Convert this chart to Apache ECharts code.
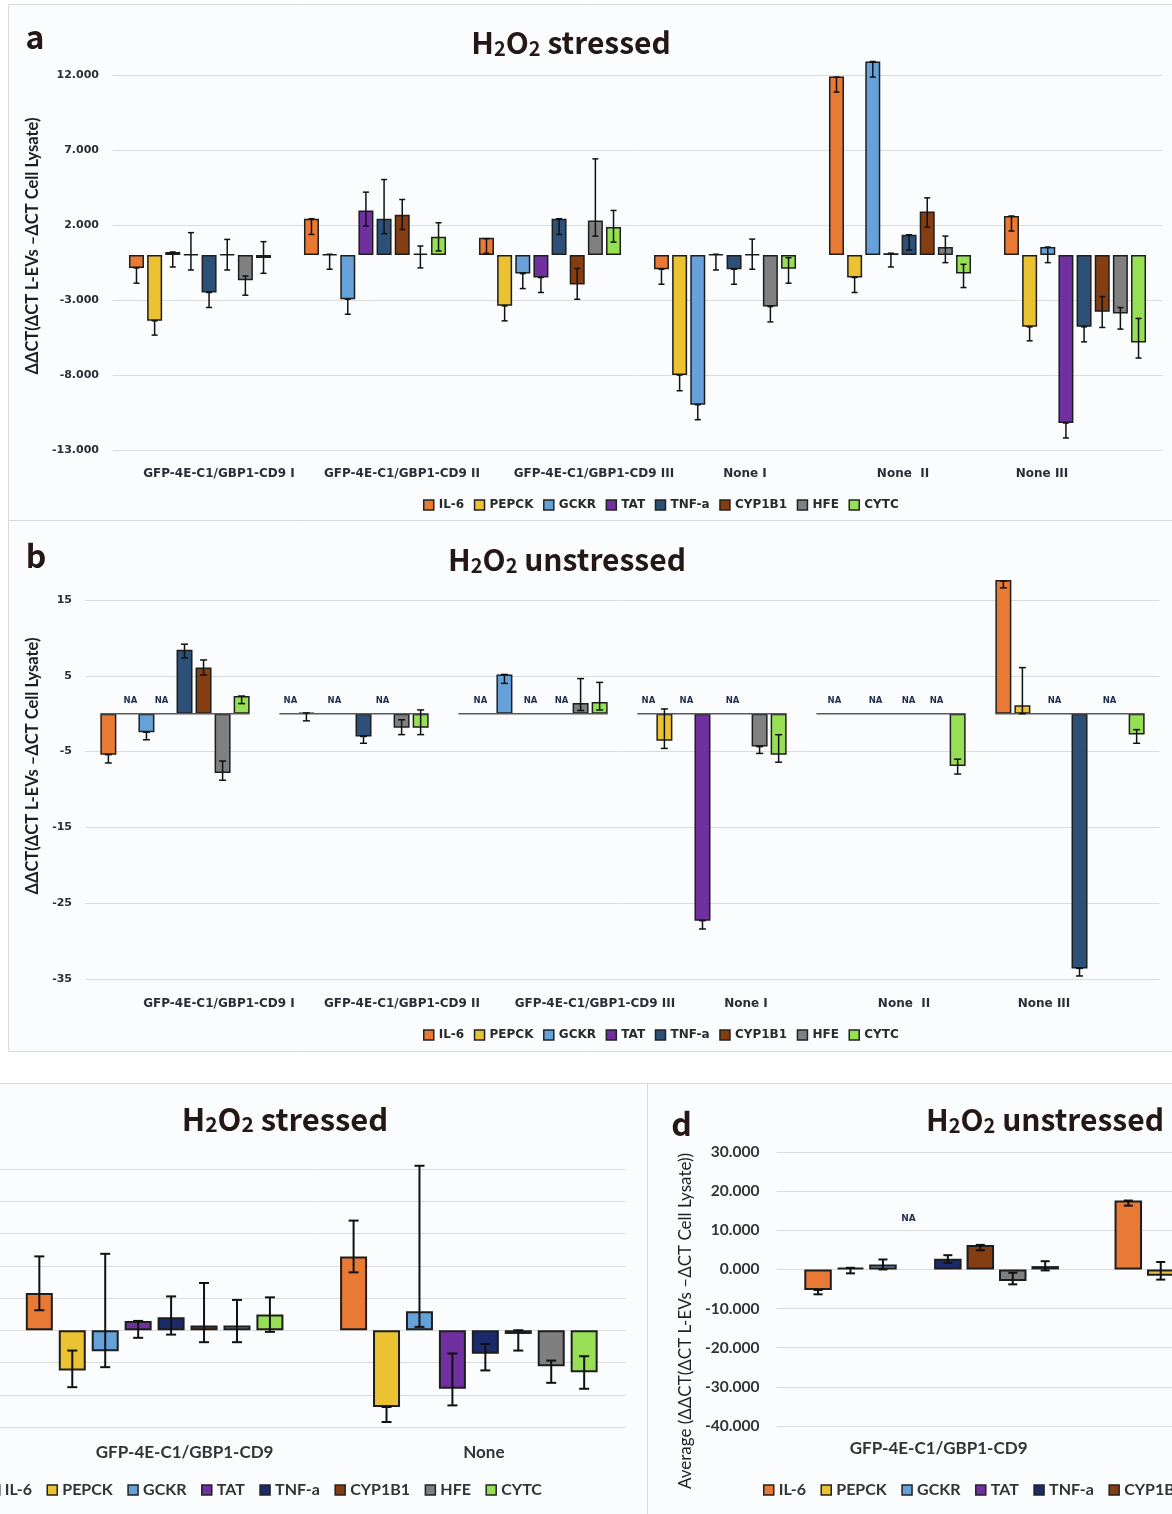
<!DOCTYPE html>
<html><head><meta charset="utf-8">
<script src="https://cdn.jsdelivr.net/npm/echarts@6/dist/echarts.min.js"></script>
<style>html,body{margin:0;padding:0;background:#fff;}#chart{width:1172px;height:1514px;}</style>
</head><body><div id="chart"></div>
<script>
// ---------------- data ----------------
const genes = ['IL-6', 'PEPCK', 'GCKR', 'TAT', 'TNF-a', 'CYP1B1', 'HFE', 'CYTC'];
const catsAB = ['GFP-4E-C1/GBP1-CD9 I', 'GFP-4E-C1/GBP1-CD9 II', 'GFP-4E-C1/GBP1-CD9 III', 'None I', 'None  II', 'None III'];
const catsCD = ['GFP-4E-C1/GBP1-CD9', 'None'];

// panel a : H2O2 stressed (rows = genes, columns = categories)
const valuesA = [
  [-0.86, 2.42, 1.15, -0.95, 11.9, 2.6],
  [-4.39, 0.05, -3.39, -8.0, -1.5, -4.79],
  [0.2, -2.95, -1.24, -9.98, 12.9, 0.53],
  [0.05, 2.97, -1.5, 0.05, 0.12, -11.2],
  [-2.5, 2.42, 2.42, -0.95, 1.35, -4.79],
  [0.05, 2.68, -1.97, 0.05, 2.9, -3.79],
  [-1.69, 0.1, 2.3, -3.44, 0.53, -3.9],
  [-0.2, 1.22, 1.86, -0.91, -1.24, -5.83]
];
const lowA = [
  [-1.88, 1.37, 0.11, -1.95, 10.86, 1.6],
  [-5.34, -0.95, -4.39, -9.05, -2.5, -5.72],
  [-0.8, -3.95, -2.24, -10.98, 11.86, -0.51],
  [-1.0, 1.93, -2.5, -1.0, -0.8, -12.2],
  [-3.5, 1.42, 1.37, -1.95, 0.33, -5.79],
  [-1.0, 1.7, -2.95, -0.95, 1.86, -4.83],
  [-2.68, -0.86, 1.26, -4.46, -0.51, -4.94],
  [-1.22, 0.27, 0.86, -1.88, -2.17, -6.87]
];
const highA = [
  [-0.86, 2.42, 1.09, -0.95, 11.86, 2.6],
  [-4.39, 0.05, -3.39, -8.0, -1.5, -4.79],
  [0.2, -2.95, -1.24, -9.98, 12.9, 0.53],
  [1.49, 4.19, -1.5, 0.05, 0.12, -11.2],
  [-2.5, 5.03, 2.42, -0.95, 1.35, -4.79],
  [1.04, 3.7, -0.9, 1.06, 3.81, -2.77],
  [-1.4, 0.6, 6.41, -3.44, 1.26, -3.5],
  [0.89, 2.15, 2.97, -0.18, -0.62, -4.23]
];

// panel b : H2O2 unstressed ('NA' = not available, null = no bar)
const valuesB = [
  [-5.4, 'NA', null, 'NA', null, 17.65],
  ['NA', 0.1, 'NA', -3.58, 'NA', 1.1],
  [-2.44, 'NA', 5.18, 'NA', null, null],
  ['NA', null, 'NA', -27.3, 'NA', 'NA'],
  [8.45, -3.0, null, null, 'NA', -33.6],
  [6.09, 'NA', 'NA', 'NA', null, null],
  [-7.83, -1.85, 1.42, -4.34, 'NA', 'NA'],
  [2.33, -1.85, 1.55, -5.4, -6.9, -2.75]
];
const lowB = [
  [-6.5, null, null, null, null, 16.6],
  [null, -0.94, null, -4.58, null, 0],
  [-3.44, null, 4.0, null, null, null],
  [null, null, null, -28.4, null, null],
  [7.36, -3.9, null, null, null, -34.6],
  [5.09, null, null, null, null, null],
  [-8.78, -2.76, 0.42, -5.24, null, null],
  [1.33, -2.76, 0.5, -6.4, -7.96, -3.9]
];
const highB = [
  [-5.4, null, null, null, null, 17.5],
  [null, 0.1, null, 0.63, null, 6.08],
  [-2.44, null, 5.18, null, null, null],
  [null, null, null, -27.3, null, null],
  [9.17, -3.0, null, null, null, -33.6],
  [7.09, null, null, null, null, null],
  [-6.24, -0.8, 4.63, -4.34, null, null],
  [2.33, 0.5, 4.13, -2.77, -6.0, -2.1]
];

// panel c : H2O2 stressed, averaged
const valuesC = [[2.31, 4.58], [-2.49, -4.76], [-1.3, 1.18], [0.58, -3.63], [0.8, -1.46], [0.29, -0.23], [0.29, -2.23], [0.97, -2.6]];
const lowC = [[1.24, 3.59], [-3.53, -5.69], [-2.29, 0.21], [-0.47, -4.66], [-0.27, -2.49], [-0.74, -1.26], [-0.74, -3.26], [-0.1, -3.63]];
const highC = [[4.58, 6.8], [-1.26, -4.76], [4.74, 10.2], [0.58, -1.44], [2.1, -0.85], [2.93, 0], [1.88, -1.88], [2.04, -1.61]];

// panel d : H2O2 unstressed, averaged (values beyond the right edge are not visible)
const valuesD = [[-5.25, 17.6], [0.42, -1.6], [1.27, null], ['NA', null], [2.71, null], [6.27, null], [-2.97, null], [0.85, null]];
const lowD = [[-6.36, 16.3], [-1.0, -2.6], [0, null], [null, null], [1.69, null], [4.9, null], [-3.81, null], [-0.25, null]];
const highD = [[-5.25, 17.6], [0.42, 1.9], [2.54, null], [null, null], [3.64, null], [6.27, null], [-0.85, null], [2.1, null]];

// ---------------- styling ----------------
const colorsAB = ['#E97A36', '#EAC232', '#66A2D9', '#7030A0', '#2D5078', '#853D12', '#808080', '#97DF55'];
const colorsCD = ['#E97A36', '#EAC232', '#66A2D9', '#7030A0', '#1B2A6B', '#853D12', '#7F7F7F', '#97DF55'];
// small horizontal nudges (px) of the hand-placed "NA" labels, keyed 'gene,category'
const naShiftB = {'1,0': 3, '3,0': -4, '0,1': 3, '2,1': 9, '1,2': -5, '3,2': 7, '0,3': 3, '2,3': 3, '5,3': -8,
  '1,4': -9, '3,4': -6, '4,4': 8, '6,4': -2, '3,5': -6, '6,5': -8};
const naShiftD = {'3,0': -7};

const cfgA = {bw: 15, gap: 0.21, bord: 1.5, cap: 6, lw: 1.5};
const cfgB = {bw: 16, gap: 0.19, bord: 1.5, cap: 7, lw: 1.5, naDist: 8, naSize: 8.5, shift: naShiftB};
const cfgC = {bw: 27, gap: 0.22, bord: 2, cap: 10, lw: 2};
const cfgD = {bw: 27.5, gap: 0.18, bord: 2, cap: 9, lw: 2, naDist: 46, naSize: 9, shift: naShiftD};
const groupW = c => genes.length * c.bw + (genes.length - 1) * c.bw * c.gap;

function bars(p, vals, colors, c) {
  return genes.map((g, k) => ({
    type: 'bar', name: g, xAxisIndex: p, yAxisIndex: p, clip: false,
    barWidth: c.bw, barGap: (c.gap * 100) + '%',
    itemStyle: {color: colors[k], borderColor: '#1e1e1e', borderWidth: c.bord},
    emphasis: {disabled: true}, silent: true, z: 2,
    data: vals[k].map((v, i) => v === 'NA' ? {
      value: 0, itemStyle: {borderWidth: 0, color: 'rgba(0,0,0,0)'},
      label: {show: true, position: 'top', distance: c.naDist, formatter: 'NA',
        offset: [(c.shift && c.shift[k + ',' + i]) || 0, 0],
        fontFamily: 'DejaVu Sans', fontWeight: 'bold', fontSize: c.naSize, color: '#1f2d4d'}
    } : (v === null ? '-' : v))
  }));
}
function errs(p, lo, hi, c) {
  const data = [];
  genes.forEach((g, k) => lo[k].forEach((l, i) => {
    if (l !== null && hi[k][i] !== null) data.push([i, k, l, hi[k][i]]);
  }));
  const W = groupW(c), step = c.bw * (1 + c.gap);
  return {
    type: 'custom', xAxisIndex: p, yAxisIndex: p, z: 6, silent: true, clip: false,
    encode: {x: 0, y: [2, 3]}, data,
    renderItem: (params, api) => {
      const cat = api.value(0), slot = api.value(1);
      const base = api.coord([cat, 0]);
      const x = base[0] - W / 2 + c.bw / 2 + slot * step;
      const y1 = api.coord([cat, api.value(2)])[1], y2 = api.coord([cat, api.value(3)])[1];
      const s = {stroke: '#111', lineWidth: c.lw};
      return {type: 'group', children: [
        {type: 'line', shape: {x1: x, y1: y1, x2: x, y2: y2}, style: s},
        {type: 'line', shape: {x1: x - c.cap / 2, y1: y1, x2: x + c.cap / 2, y2: y1}, style: s},
        {type: 'line', shape: {x1: x - c.cap / 2, y1: y2, x2: x + c.cap / 2, y2: y2}, style: s}
      ]};
    }
  };
}
function xLabels(offsets, font, margin) {
  const rich = {};
  offsets.forEach((o, i) => {
    rich['l' + i] = Object.assign({}, font, {padding: o >= 0 ? [0, 0, 0, 2 * o] : [0, -2 * o, 0, 0]});
  });
  return Object.assign({show: true, interval: 0, margin: margin, rich: rich,
    formatter: (v, i) => '{l' + i + '|' + v + '}'}, font);
}
function legendOf(left, top, colors, font, gap) {
  return {
    left: left, top: top, width: 1400, orient: 'horizontal', icon: 'rect', itemWidth: 10, itemHeight: 10,
    itemGap: gap, selectedMode: false, padding: 0,
    data: genes.map((g, k) => ({name: g, itemStyle: {color: colors[k], borderColor: '#222', borderWidth: 1.5}})),
    textStyle: font
  };
}
function title(x, y, rest, size, align) {
  const f = 'Noto Sans CJK JP';
  return {type: 'text', x: x, y: y, z: 50, silent: true, style: {
    text: '{n|H}{s|2}{n|O}{s|2}{n| ' + rest + '}', align: align, verticalAlign: 'middle',
    rich: {
      n: {fontFamily: f, fontWeight: 'bold', fontSize: size, fill: '#231815', lineHeight: size + 8, verticalAlign: 'bottom'},
      s: {fontFamily: f, fontWeight: 'bold', fontSize: Math.round(size * 0.68), fill: '#231815', lineHeight: size * 0.68 + 3, verticalAlign: 'bottom'}
    }}};
}
function letter(x, y, t) {
  return {type: 'text', x: x, y: y, z: 50, silent: true, style: {text: t, align: 'center', verticalAlign: 'middle',
    fontFamily: 'Noto Sans CJK JP', fontWeight: 'bold', fontSize: 32, fill: '#231815'}};
}

const fAB = {fontFamily: 'DejaVu Sans', fontWeight: 'bold', fontSize: 11, color: '#2a2d36'};
const fXAB = {fontFamily: 'DejaVu Sans', fontWeight: 'bold', fontSize: 12, color: '#2a2d36'};
const fLegAB = {fontFamily: 'DejaVu Sans', fontWeight: 'bold', fontSize: 12, color: '#2a2a2a'};
const fCD = {fontFamily: 'Lato', fontWeight: 'bold', fontSize: 17, color: '#333'};
const fLegCD = {fontFamily: 'Lato', fontWeight: 'bold', fontSize: 16, color: '#333'};
const split = {show: true, lineStyle: {color: '#dcdcdc', width: 1}};
const yNameAB = {fontFamily: 'Lato', fontWeight: 'bold', fontSize: 16.5, color: '#1e1e1e'};

const option = {
  animation: false,
  backgroundColor: '#ffffff',
  grid: [
    {left: 112.5, top: 75, right: 9.5, bottom: 1064, outerBoundsMode: 'none', containLabel: false},
    {left: 85.5, top: 600, right: 12.5, bottom: 535, outerBoundsMode: 'none', containLabel: false},
    {left: -2.5, top: 1169, right: 546, bottom: 87, outerBoundsMode: 'none', containLabel: false},
    {left: 776.5, top: 1152, right: -225, bottom: 88, outerBoundsMode: 'none', containLabel: false}
  ],
  xAxis: [
    {type: 'category', gridIndex: 0, data: catsAB, axisLine: {show: false}, axisTick: {show: false},
      axisLabel: xLabels([19, 27, 44, 20, 3, -33], fXAB, 18)},
    {type: 'category', gridIndex: 1, data: catsAB, axisLine: {show: false}, axisTick: {show: false},
      axisLabel: xLabels([44, 48, 62, 34, 13, -26], fXAB, 19)},
    {type: 'category', gridIndex: 2, data: catsCD, axisLine: {show: false}, axisTick: {show: false},
      axisLabel: xLabels([30, 15], fCD, 17)},
    {type: 'category', gridIndex: 3, data: catsCD, axisLine: {show: false}, axisTick: {show: false},
      axisLabel: xLabels([7, 0], fCD, 14)}
  ],
  yAxis: [
    {type: 'value', gridIndex: 0, min: -13, max: 12, interval: 5, splitLine: split,
      axisLine: {show: false}, axisTick: {show: false},
      axisLabel: Object.assign({margin: 13.5, formatter: v => v.toFixed(3)}, fAB),
      name: 'ΔΔCT(ΔCT L-EVs –ΔCT Cell Lysate)', nameLocation: 'middle', nameRotate: 90, nameGap: 60,
      nameTextStyle: Object.assign({padding: [0, 0, 0, 33]}, yNameAB)},
    {type: 'value', gridIndex: 1, min: -35, max: 15, interval: 10, splitLine: split,
      axisLine: {show: false}, axisTick: {show: false},
      axisLabel: Object.assign({margin: 13.5, formatter: v => String(v)}, fAB),
      name: 'ΔΔCT(ΔCT L-EVs –ΔCT Cell Lysate)', nameLocation: 'middle', nameRotate: 90, nameGap: 37,
      nameTextStyle: Object.assign({padding: [0, 0, 0, 47]}, yNameAB)},
    {type: 'value', gridIndex: 2, min: -6, max: 10, interval: 2, splitLine: split,
      axisLine: {show: false}, axisTick: {show: false}, axisLabel: {show: false}},
    {type: 'value', gridIndex: 3, min: -40, max: 30, interval: 10, splitLine: split,
      axisLine: {show: false}, axisTick: {show: false},
      axisLabel: {margin: 17, formatter: v => v.toFixed(3), fontFamily: 'Lato', fontWeight: 'bold', fontSize: 15.5, color: '#333'},
      name: 'Average (ΔΔCT(ΔCT L-EVs –ΔCT Cell Lysate))', nameLocation: 'middle', nameRotate: 90, nameGap: 79,
      nameTextStyle: {padding: [0, 64, 0, 0], fontFamily: 'Lato', fontSize: 17, color: '#222'}}
  ],
  legend: [
    legendOf(423, 499, colorsAB, fLegAB, 9.6),
    legendOf(423, 1029, colorsAB, fLegAB, 9.6),
    legendOf(-11, 1482, colorsCD, fLegCD, 14.5),
    legendOf(763, 1482, colorsCD, fLegCD, 14.5)
  ],
  graphic: [
    {type: 'rect', z: -10, silent: true, shape: {x: 8.5, y: 4.5, width: 1170, height: 516}, style: {fill: '#fbfcfd', stroke: '#d9d9d9', lineWidth: 1}},
    {type: 'rect', z: -10, silent: true, shape: {x: 8.5, y: 520.5, width: 1170, height: 531}, style: {fill: '#fbfcfd', stroke: '#d9d9d9', lineWidth: 1}},
    {type: 'rect', z: -10, silent: true, shape: {x: -5, y: 1083.5, width: 652.5, height: 440}, style: {fill: '#fbfcfd', stroke: '#d9d9d9', lineWidth: 1}},
    {type: 'rect', z: -10, silent: true, shape: {x: 647.5, y: 1083.5, width: 530, height: 440}, style: {fill: '#fbfcfd', stroke: '#d9d9d9', lineWidth: 1}},
    title(571, 39, 'stressed', 30, 'center'),
    title(567, 556, 'unstressed', 30, 'center'),
    title(285, 1115, 'stressed', 31, 'center'),
    title(926, 1116, 'unstressed', 30, 'left'),
    letter(35, 37, 'a'),
    letter(36, 556, 'b'),
    letter(681.5, 1124, 'd')
  ],
  series: [].concat(
    bars(0, valuesA, colorsAB, cfgA), [errs(0, lowA, highA, cfgA)],
    bars(1, valuesB, colorsAB, cfgB), [errs(1, lowB, highB, cfgB)],
    [{type: 'custom', xAxisIndex: 1, yAxisIndex: 1, z: 5, silent: true,
      data: catsAB.map((c, i) => [i, 0]), encode: {x: 0, y: 1},
      renderItem: (params, api) => {
        const pt = api.coord([api.value(0), 0]), W = groupW(cfgB);
        return {type: 'line', shape: {x1: pt[0] - W / 2, y1: pt[1], x2: pt[0] + W / 2, y2: pt[1]},
          style: {stroke: '#5a5a5a', lineWidth: 1.5}};
      }}],
    bars(2, valuesC, colorsCD, cfgC), [errs(2, lowC, highC, cfgC)],
    bars(3, valuesD, colorsCD, cfgD), [errs(3, lowD, highD, cfgD)]
  )
};
const chart = echarts.init(document.getElementById('chart'), null, {renderer: 'canvas'});
chart.setOption(option);
</script>
</body></html>
